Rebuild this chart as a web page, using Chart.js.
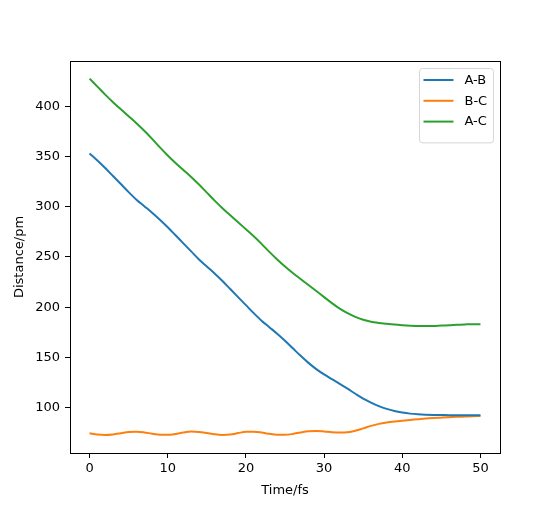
<!DOCTYPE html>
<html>
<head>
<meta charset="utf-8">
<script src="https://cdn.jsdelivr.net/npm/chart.js@4.4.1/dist/chart.umd.min.js"></script>
<style>
  html, body { margin: 0; padding: 0; background: #fff; }
  #wrap { width: 556px; height: 509px; }
</style>
</head>
<body>
<div id="wrap"><canvas id="distChart" width="556" height="509"></canvas></div>
<script>
// time axis (fs)
const timeFs = [0, 1, 2, 3, 4, 5, 6, 7, 8, 9, 10, 11, 12, 13, 14, 15, 16, 17, 18, 19, 20,
    21, 22, 23, 24, 25, 26, 27, 28, 29, 30, 31, 32, 33, 34, 35, 36, 37, 38, 39, 40,
    41, 42, 43, 44, 45, 46, 47, 48, 49, 50];

// distances (pm)
const distAB = [353, 346, 338.5, 330.5, 322.5, 314.5, 307, 300.5, 294, 287, 279.5,
    271.5, 263.5, 255.5, 247.5, 240.5, 233.5, 226, 218, 210, 202,
    194, 186.5, 180, 173.5, 166.5, 159, 151.5, 144.5, 138.3, 133,
    128.3, 123.6, 118.8, 113.8, 109, 105, 101.5, 98.7, 96.6, 95.1,
    94, 93.3, 92.9, 92.7, 92.6, 92.5, 92.5, 92.5, 92.5, 92.5];

const distBC = [74.5, 73.2, 72.8, 73.3, 74.5, 75.8, 76, 75.3, 74, 73, 72.9,
    73.8, 75.2, 76.1, 75.8, 74.7, 73.4, 72.8, 73.2, 74.6, 75.9,
    76, 75.2, 73.9, 73, 72.9, 73.8, 75.3, 76.5, 76.8, 76.3,
    75.5, 75.1, 75.5, 77, 79.3, 81.8, 83.8, 85.2, 86.2, 87,
    87.7, 88.4, 89.1, 89.6, 90, 90.4, 90.8, 91.1, 91.4, 91.6];

const distAC = [427.5, 419.5, 411.5, 404, 397, 390, 383, 375.5, 367.5, 359, 351,
    343.5, 336.5, 329.5, 322, 314, 306, 298.5, 291.5, 284.5, 277.5,
    270.5, 263, 255, 247.5, 240.5, 234, 228, 222, 216, 210,
    204, 198.5, 194, 190.3, 187.5, 185.5, 184.3, 183.4, 182.6, 182,
    181.5, 181.2, 181.2, 181.3, 181.7, 182, 182.5, 182.8, 183, 183];

const seriesLabels = ['A-B', 'B-C', 'A-C'];
const xTicks = [0, 10, 20, 30, 40, 50];
const yTicks = [100, 150, 200, 250, 300, 350, 400];

const FONT = { family: 'DejaVu Sans', size: 13 };

function toPoints(ys) {
    return timeFs.map((t, i) => ({ x: t, y: ys[i] }));
}

// axes frame (all four spines)
const framePlugin = {
    id: 'frame',
    afterDraw(chart) {
        const { ctx, chartArea: a } = chart;
        ctx.save();
        ctx.strokeStyle = '#000';
        ctx.lineWidth = 1;
        ctx.strokeRect(Math.round(a.left) + 0.5, Math.round(a.top) + 0.5,
            Math.round(a.right - a.left), Math.round(a.bottom - a.top));
        ctx.restore();
    }
};

// matplotlib style legend in the upper right corner
const boxLegend = {
    id: 'boxLegend',
    afterDraw(chart) {
        const { ctx, chartArea: a } = chart;
        const sets = chart.data.datasets;
        const w = 74, rowH = 20.8;
        const h = 12 + rowH * sets.length;
        const x = a.right - 6.5 - w, y = a.top + 7.5;
        ctx.save();
        ctx.beginPath();
        ctx.roundRect(x, y, w, h, 3);
        ctx.fillStyle = 'rgba(255,255,255,0.8)';
        ctx.fill();
        ctx.strokeStyle = '#d6d6d6';
        ctx.lineWidth = 1;
        ctx.stroke();
        ctx.font = '13px "DejaVu Sans"';
        ctx.textBaseline = 'middle';
        ctx.fillStyle = '#000';
        sets.forEach((ds, i) => {
            const cy = y + 11.5 + i * rowH;
            ctx.beginPath();
            ctx.strokeStyle = ds.borderColor;
            ctx.lineWidth = 2;
            ctx.moveTo(x + 4, cy);
            ctx.lineTo(x + 34, cy);
            ctx.stroke();
            ctx.fillText(ds.label, x + 45, cy + 0.5);
        });
        ctx.restore();
    }
};

const ctx = document.getElementById('distChart').getContext('2d');

new Chart(ctx, {
    type: 'line',
    data: {
        datasets: [
            { label: seriesLabels[0], data: toPoints(distAB), borderColor: '#1f77b4' },
            { label: seriesLabels[1], data: toPoints(distBC), borderColor: '#ff7f0e' },
            { label: seriesLabels[2], data: toPoints(distAC), borderColor: '#2ca02c' }
        ]
    },
    options: {
        responsive: false,
        animation: false,
        devicePixelRatio: 1,
        layout: { padding: { left: 0, right: 56, top: 61, bottom: 0 } },
        elements: {
            line: { borderWidth: 2, cubicInterpolationMode: 'monotone', fill: false },
            point: { radius: 0 }
        },
        plugins: {
            legend: { display: false },
            tooltip: { enabled: false }
        },
        scales: {
            x: {
                type: 'linear',
                min: -2.5,
                max: 52.5,
                afterBuildTicks: s => { s.ticks = xTicks.map(v => ({ value: v })); },
                afterFit: s => { s.height = 56; },
                border: { display: false },
                grid: { drawOnChartArea: false, tickLength: 5, tickColor: '#000', tickWidth: 1 },
                ticks: { color: '#000', font: FONT, padding: 3, maxRotation: 0 },
                title: { display: true, text: 'Time/fs', color: '#000', font: FONT, padding: { bottom: 11 } }
            },
            y: {
                type: 'linear',
                min: 54.8,
                max: 445,
                afterBuildTicks: s => { s.ticks = yTicks.map(v => ({ value: v })); },
                afterFit: s => { s.width = 70; },
                border: { display: false },
                grid: { drawOnChartArea: false, tickLength: 5, tickColor: '#000', tickWidth: 1 },
                ticks: { color: '#000', font: FONT, padding: 5 },
                title: { display: true, text: 'Distance/pm', color: '#000', font: FONT, padding: { top: 12 } }
            }
        }
    },
    plugins: [framePlugin, boxLegend]
});
</script>
</body>
</html>
